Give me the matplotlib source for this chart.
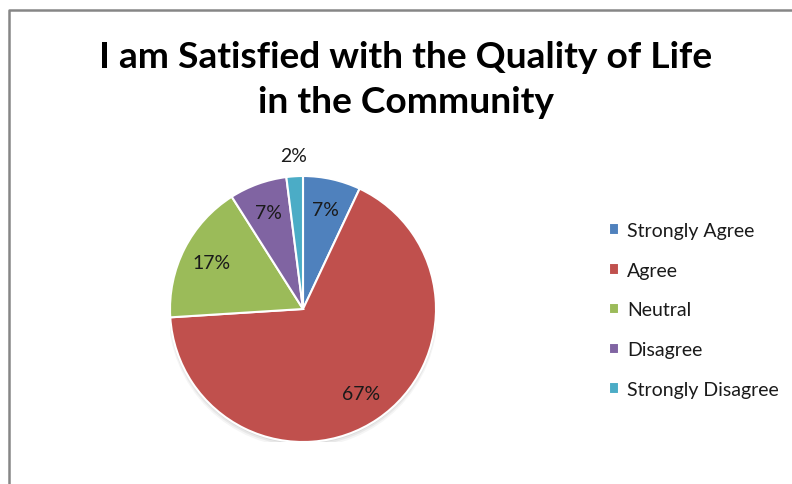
import matplotlib.pyplot as plt
import numpy as np
from matplotlib.patches import Circle

# Survey responses
categories = ['Strongly Agree', 'Agree', 'Neutral', 'Disagree', 'Strongly Disagree']
shares = [7, 67, 17, 7, 2]
colors = ['#4F81BD', '#C0504D', '#9BBB59', '#8064A2', '#4BACC6']
title = 'I am Satisfied with the Quality of Life\nin the Community'

W, H = 792, 485
fig = plt.figure(figsize=(W / 100, H / 100), dpi=100)
fig.patch.set_facecolor('white')

# chart frame (only left and top edges are visible)
frame = plt.Line2D([8.5 / W, 8.5 / W, 1.0], [0.0, 1 - 10.5 / H, 1 - 10.5 / H],
                   transform=fig.transFigure, color='#868686', linewidth=1.8)
fig.add_artist(frame)

fig.text(406 / W, 1 - 80 / H, title, ha='center', va='center',
         fontsize=26.7, fontweight='bold', family='Lato', linespacing=1.42)

cx, cy, r = 303, 310, 133
ax = fig.add_axes([(cx - r) / W, (H - cy - r) / H, 2 * r / W, 2 * r / H])

# soft drop shadow under the pie
for k, a in enumerate([0.06, 0.05, 0.04]):
    ax.add_patch(Circle((0.0, -0.015 - 0.008 * k), 1.0 + 0.006 * k,
                        color='black', alpha=a, zorder=0, lw=0))

wedges, _ = ax.pie(shares, colors=colors, startangle=90, counterclock=False,
                   radius=1.0, wedgeprops=dict(edgecolor='white', linewidth=1.5))
for w in wedges:
    w.set_zorder(2)
ax.set_xlim(-1, 1)
ax.set_ylim(-1, 1)
ax.set_aspect('equal')
ax.axis('off')

for w, v in zip(wedges, shares):
    mid = np.deg2rad((w.theta1 + w.theta2) / 2)
    dist = 1.16 if v < 5 else 0.77
    ax.text(dist * np.cos(mid), dist * np.sin(mid), f'{v}%', ha='center',
            va='center', fontsize=14, family='Lato', color='#1a1a1a',
            zorder=3, clip_on=False)

leg = fig.legend(wedges, categories, loc='upper left',
                 bbox_to_anchor=(609 / W, 1 - 223 / H), frameon=False,
                 prop=dict(family='Lato', size=14), handlelength=0.52,
                 handleheight=0.52, handletextpad=0.41, labelspacing=1.17,
                 borderaxespad=0, borderpad=0)
for t in leg.get_texts():
    t.set_color('#1a1a1a')

fig.savefig('out.png', dpi=100)
